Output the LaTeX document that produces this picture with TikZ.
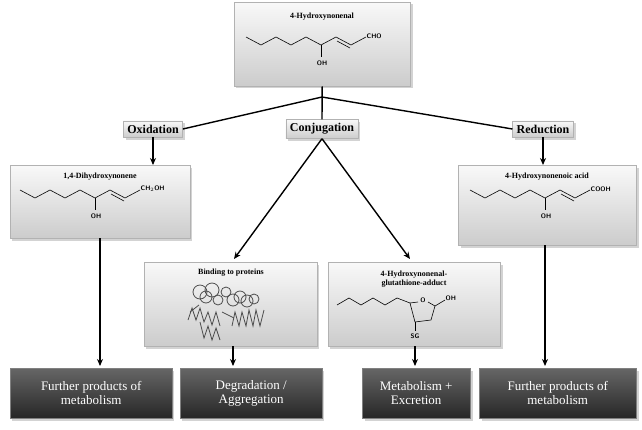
\documentclass[tikz,border=0pt]{standalone}
\usepackage{fontspec}
\setmainfont{Liberation Serif}
\usetikzlibrary{arrows.meta,shadows}
\begin{document}
\begin{tikzpicture}[x=1pt,y=-1pt,
 lbox/.style={draw=gray!60,top color=gray!5,bottom color=gray!40,drop shadow={opacity=0.35}},
 dbox/.style={draw=gray,top color=black!60,bottom color=black!85,text=white,align=center,font=\fontsize{13}{14}\selectfont,drop shadow={opacity=0.35}},
 ttl/.style={font=\bfseries\fontsize{8}{9}\selectfont,align=center},
 hdr/.style={lbox,font=\bfseries\fontsize{12}{13}\selectfont,inner sep=4pt},
 arr/.style={-{Stealth[length=7pt,width=6pt]},line width=1.4pt},
 ln/.style={line width=1.4pt},
 bond/.style={line width=0.6pt},
 atom/.style={font=\sffamily\bfseries\fontsize{6.5}{7}\selectfont,inner sep=0.5pt}]
\useasboundingbox (0,0) rectangle (642,429);
% boxes
\node[lbox,minimum width=176,minimum height=84,anchor=north west] (hne) at (234,2) {};
\node[ttl] at (322,17) {4-Hydroxynonenal};
\node[hdr] (ox) at (153,129) {Oxidation};
\node[hdr] (conj) at (322,129) {Conjugation};
\node[hdr] (red) at (543,129) {Reduction};
\node[lbox,minimum width=180,minimum height=73,anchor=north west] (dhn) at (10,165) {};
\node[ttl] at (100,177) {1,4-Dihydroxynonene};
\node[lbox,minimum width=178,minimum height=80,anchor=north west] (acid) at (458,165) {};
\node[ttl] at (547,177) {4-Hydroxynonenoic acid};
\node[lbox,minimum width=173,minimum height=84,anchor=north west] (bind) at (144,262) {};
\node[ttl] at (231,273) {Binding to proteins};
\node[lbox,minimum width=172,minimum height=84,anchor=north west] (gsh) at (328,262) {};
\node[ttl] at (414,279) {4-Hydroxynonenal-\\glutathione-adduct};
\node[dbox,minimum width=162,minimum height=50,anchor=north west] (f1) at (10,368) {Further products of\\metabolism};
\node[dbox,minimum width=142,minimum height=50,anchor=north west] (deg) at (180,368) {Degradation /\\Aggregation};
\node[dbox,minimum width=108,minimum height=50,anchor=north west] (met) at (362,368) {Metabolism +\\Excretion};
\node[dbox,minimum width=157,minimum height=50,anchor=north west] (f2) at (479,368) {Further products of\\metabolism};
% connectors
\coordinate (j) at (322,97);
\draw[ln] (hne.south) -- (conj.north);
\draw[ln] (j) -- (ox.east);
\draw[ln] (j) -- (red.west);
\draw[arr] (ox.south) -- (ox.south |- dhn.north);
\draw[arr] (red.south) -- (red.south |- acid.north);
\draw[arr] (conj.south) -- (234,259);
\draw[arr] (conj.south) -- (410,259);
\draw[arr] (100,238) -- (100,366);
\draw[arr] (545,245) -- (545,366);
\draw[arr] (233,346) -- (233,366);
\draw[arr] (415,346) -- (415,366);
% molecules
\foreach \x/\y/\lab in {246/37/CHO,20/190/CH$_2$OH,470/190/COOH}{
 \begin{scope}[shift={(\x,\y)}]
 \draw[bond] (0,0)--(15,8)--(30,0)--(45,8)--(60,0)--(75,8)--(90,0)--(105,8)--(120,0);
 \draw[bond] (91,4)--(104,11);
 \draw[bond] (75,8)--(75,20);
 \node[atom] at (76,26) {OH};
 \node[atom,anchor=west] at (120,-1) {\lab};
 \end{scope}}
% GSH adduct
\draw[bond] (337,305)--(349,298)--(361,305)--(373,298)--(385,305)--(397,298)--(410,303);
\node[atom] at (423,300) {O};
\draw[bond] (410,303)--(418,302) (428,302)--(435,306)--(445,300);
\node[atom,anchor=west] at (445,298) {OH};
\draw[bond] (410,303)--(415,322)--(431,320)--(435,306);
\draw[bond] (415,322)--(415,331);
\node[atom] at (415,336) {SG};
% protein scribble
\begin{scope}[gray!60!black,line width=0.8pt]
\foreach \cx/\cy/\r in {200/292/7,206/297/6,212/290/7,218/300/5,233/300/6,240/297/6,247/301/6,254/299/5,226/292/5}
  \draw (\cx,\cy) circle (\r);
\draw (188,320)--(192,308)--(196,320)--(200,308)--(204,322)--(208,312)--(212,325)--(216,312)--(220,326);
\draw (232,326)--(235,312)--(239,326)--(242,312)--(246,326)--(249,310)--(253,326)--(256,310)--(260,326)--(264,310);
\draw (200,322)--(204,338)--(208,326)--(212,340)--(216,328)--(220,340);
\draw (190,312)--(199,305) (222,312)--(234,318);
\end{scope}
\end{tikzpicture}
\end{document}
